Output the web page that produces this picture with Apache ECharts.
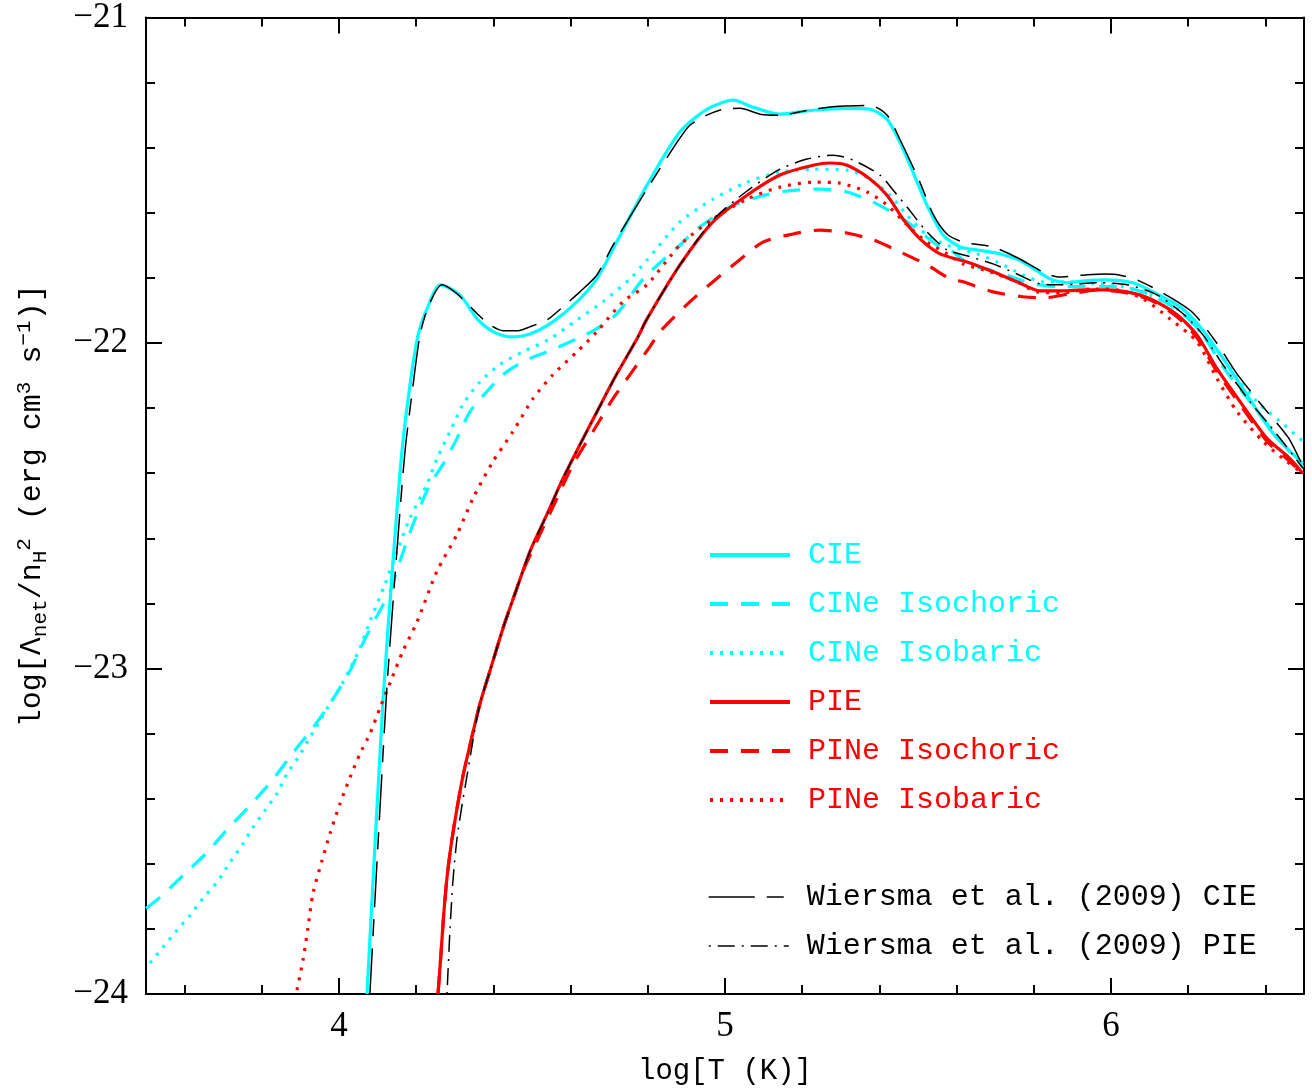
<!DOCTYPE html>
<html>
<head>
<meta charset="utf-8">
<script src="https://cdn.jsdelivr.net/npm/echarts@6/dist/echarts.min.js"></script>
<style>
html,body{margin:0;padding:0;background:#fff;}
#chart{width:1312px;height:1091px;}
</style>
</head>
<body>
<div id="chart"></div>
<script>
// ---------- tick values ----------
const xMajor = [4, 5, 6];
const xMinor = [3.6, 3.8, 4.2, 4.4, 4.6, 4.8, 5.2, 5.4, 5.6, 5.8, 6.2, 6.4];
const yMajor = [-24, -23, -22, -21];
const yMinor = [-23.8, -23.6, -23.4, -23.2, -22.8, -22.6, -22.4, -22.2, -21.8, -21.6, -21.4, -21.2];

// ---------- series names ----------
const names = ['CIE', 'CINe Isochoric', 'CINe Isobaric', 'PIE', 'PINe Isochoric', 'PINe Isobaric',
               'Wiersma et al. (2009) CIE', 'Wiersma et al. (2009) PIE'];

// ---------- data: log T and log Lambda ----------
const T_CIE = [4.0725,4.114,4.140,4.163,4.184,4.205,4.228,4.262,4.313,4.358,4.399,4.443,4.495,4.554,4.617,4.668,4.710,4.798,4.883,4.953,5.021,5.073,5.142,5.228,5.316,5.376,5.420,5.453,5.487,5.523,5.565,5.609,5.653,5.712,5.772,5.842,5.886,5.933,5.984,6.057,6.109,6.179,6.231,6.282,6.345,6.422,6.497];
const L_CIE = [-24.000,-23.099,-22.670,-22.333,-22.128,-21.975,-21.895,-21.821,-21.852,-21.926,-21.965,-21.981,-21.972,-21.935,-21.873,-21.803,-21.711,-21.515,-21.352,-21.282,-21.254,-21.276,-21.297,-21.285,-21.279,-21.282,-21.313,-21.383,-21.475,-21.576,-21.668,-21.705,-21.714,-21.726,-21.751,-21.803,-21.815,-21.809,-21.806,-21.815,-21.843,-21.889,-21.950,-22.033,-22.146,-22.281,-22.370];

const T_CINeIC = [3.5,3.5363,3.5959,3.6580,3.7124,3.7694,3.8264,3.8808,3.9326,3.9767,4.0026,4.0285,4.0622,4.0984,4.1321,4.1580,4.1917,4.2358,4.2694,4.3057,4.3394,4.3834,4.4249,4.4767,4.5389,4.6166,4.6684,4.7202,4.790,4.8834,4.9275,5.0130,5.0829,5.1606,5.2461,5.3161,5.3834,5.4456,5.4974,5.5492,5.5907,5.6347,5.6865,5.7565,5.7979,5.8601,5.9275,5.9974,6.0570,6.1192,6.1865,6.2383,6.2902,6.3601,6.4301,6.4974];
const L_CINeIC = [-23.737,-23.703,-23.636,-23.565,-23.492,-23.421,-23.344,-23.259,-23.182,-23.108,-23.059,-23.007,-22.922,-22.839,-22.762,-22.670,-22.557,-22.434,-22.373,-22.293,-22.211,-22.149,-22.097,-22.057,-22.027,-21.987,-21.956,-21.910,-21.800,-21.699,-21.650,-21.582,-21.552,-21.533,-21.527,-21.536,-21.567,-21.607,-21.650,-21.699,-21.720,-21.760,-21.775,-21.803,-21.818,-21.827,-21.827,-21.827,-21.834,-21.861,-21.910,-21.975,-22.073,-22.180,-22.287,-22.382];

const T_CINeIB = [3.5104,3.5440,3.5803,3.6140,3.6477,3.6839,3.7176,3.7513,3.7772,3.8083,3.8394,3.8653,3.8938,3.9197,3.9508,3.9767,4.0026,4.0285,4.0544,4.0803,4.1192,4.1503,4.1839,4.2280,4.2539,4.2876,4.3212,4.3653,4.4171,4.4767,4.5466,4.6166,4.6839,4.7539,4.7979,4.8834,4.9689,5.0570,5.1425,5.2280,5.3161,5.3756,5.4275,5.4715,5.5233,5.5751,5.6528,5.7047,5.7720,5.8238,5.8860,5.9715,6.0311,6.1010,6.1710,6.2383,6.3083,6.3782,6.4378,6.4974];
const L_CINeIB = [-23.905,-23.856,-23.804,-23.758,-23.706,-23.657,-23.596,-23.538,-23.488,-23.436,-23.384,-23.323,-23.274,-23.222,-23.161,-23.108,-23.059,-23.001,-22.937,-22.854,-22.741,-22.640,-22.538,-22.434,-22.355,-22.272,-22.189,-22.119,-22.066,-22.027,-21.987,-21.929,-21.873,-21.803,-21.745,-21.628,-21.558,-21.506,-21.475,-21.466,-21.469,-21.496,-21.546,-21.607,-21.668,-21.699,-21.726,-21.751,-21.791,-21.812,-21.812,-21.818,-21.827,-21.852,-21.895,-21.975,-22.073,-22.180,-22.241,-22.302];

const T_PIE = [4.2565,4.2640,4.2710,4.2800,4.2920,4.3057,4.3212,4.3394,4.3653,4.3912,4.4249,4.4611,4.4948,4.5389,4.5803,4.6244,4.6684,4.7202,4.7720,4.7979,4.8834,4.9689,5.0570,5.1425,5.2280,5.2720,5.3161,5.3756,5.4197,5.4611,5.5052,5.5570,5.6269,5.6943,5.7565,5.8161,5.8756,5.9326,5.9845,6.0415,6.1010,6.1710,6.2228,6.2746,6.3342,6.4041,6.4637,6.4974];
const L_PIE = [-24.000,-23.880,-23.760,-23.640,-23.530,-23.430,-23.330,-23.235,-23.108,-23.007,-22.876,-22.753,-22.640,-22.526,-22.416,-22.312,-22.211,-22.094,-21.987,-21.926,-21.760,-21.628,-21.546,-21.484,-21.454,-21.447,-21.454,-21.496,-21.546,-21.619,-21.680,-21.726,-21.751,-21.781,-21.812,-21.840,-21.840,-21.837,-21.837,-21.843,-21.864,-21.913,-21.975,-22.079,-22.180,-22.293,-22.355,-22.401];

const T_PINeIC = [4.2565,4.2640,4.2710,4.2800,4.2920,4.3057,4.3212,4.3394,4.3653,4.3912,4.4249,4.4430,4.4767,4.5207,4.5648,4.6062,4.6580,4.7098,4.7539,4.8057,4.8316,4.9093,4.9689,5.0311,5.0984,5.1762,5.2461,5.3161,5.3834,5.4534,5.5233,5.5829,5.6166,5.6943,5.7720,5.8290,5.8938,5.9715,6.0415,6.1010,6.1710,6.2228,6.2746,6.3342,6.4041,6.4637,6.4974];
const L_PINeIC = [-24.000,-23.880,-23.760,-23.640,-23.530,-23.430,-23.330,-23.235,-23.108,-23.007,-22.876,-22.814,-22.701,-22.588,-22.477,-22.373,-22.272,-22.171,-22.097,-22.011,-21.965,-21.873,-21.812,-21.751,-21.690,-21.665,-21.653,-21.662,-21.683,-21.720,-21.760,-21.803,-21.812,-21.843,-21.858,-21.861,-21.849,-21.837,-21.846,-21.867,-21.919,-21.984,-22.088,-22.189,-22.302,-22.364,-22.404];

const T_PINeIB = [3.891,3.9067,3.9197,3.9326,3.9560,3.9767,4.0026,4.0285,4.0544,4.0803,4.1062,4.1373,4.1658,4.2021,4.2539,4.3057,4.3472,4.3990,4.4508,4.5026,4.5544,4.6166,4.6684,4.7358,4.7979,4.8834,4.9689,5.0570,5.1425,5.2280,5.2979,5.3679,5.4197,5.4715,5.5233,5.5751,5.6166,5.6865,5.7565,5.8083,5.8756,5.9456,6.0155,6.0829,6.1528,6.2228,6.2746,6.3264,6.3938,6.4456,6.4974];
const L_PINeIB = [-23.988,-23.896,-23.795,-23.691,-23.590,-23.507,-23.415,-23.335,-23.262,-23.200,-23.121,-23.029,-22.946,-22.857,-22.701,-22.588,-22.477,-22.364,-22.272,-22.171,-22.097,-22.027,-21.965,-21.873,-21.821,-21.699,-21.619,-21.558,-21.521,-21.506,-21.509,-21.536,-21.576,-21.637,-21.690,-21.726,-21.757,-21.781,-21.812,-21.843,-21.846,-21.834,-21.837,-21.864,-21.926,-21.996,-22.109,-22.211,-22.302,-22.355,-22.401];

const T_W09CIE = [4.080,4.122,4.148,4.171,4.192,4.210,4.231,4.267,4.306,4.358,4.391,4.425,4.464,4.495,4.539,4.580,4.624,4.668,4.710,4.798,4.876,4.909,4.953,4.995,5.039,5.091,5.142,5.228,5.298,5.376,5.420,5.453,5.505,5.539,5.575,5.617,5.694,5.759,5.829,5.863,5.933,5.984,6.021,6.073,6.142,6.212,6.275,6.326,6.389,6.459,6.497];
const L_W09CIE = [-24.000,-23.099,-22.670,-22.333,-22.128,-21.975,-21.889,-21.821,-21.849,-21.910,-21.944,-21.962,-21.962,-21.950,-21.929,-21.889,-21.843,-21.791,-21.699,-21.527,-21.383,-21.331,-21.300,-21.282,-21.279,-21.297,-21.300,-21.282,-21.273,-21.270,-21.300,-21.374,-21.506,-21.604,-21.665,-21.690,-21.705,-21.739,-21.785,-21.797,-21.791,-21.788,-21.791,-21.809,-21.852,-21.907,-22.002,-22.094,-22.189,-22.290,-22.379];

const T_W09PIE = [4.2798,4.2876,4.2960,4.3060,4.3187,4.3316,4.3472,4.3653,4.3912,4.4249,4.4611,4.4948,4.5389,4.5803,4.6244,4.6684,4.7202,4.7720,4.7979,4.8834,4.9689,5.0570,5.1425,5.2124,5.2798,5.3316,5.4016,5.4352,5.4715,5.5233,5.5751,5.6269,5.6943,5.7565,5.8161,5.8756,5.9715,6.0415,6.1192,6.1865,6.2383,6.2902,6.3601,6.4301,6.4974];
const L_W09PIE = [-24.000,-23.800,-23.640,-23.520,-23.420,-23.330,-23.220,-23.108,-23.007,-22.876,-22.753,-22.640,-22.526,-22.416,-22.312,-22.211,-22.094,-21.987,-21.926,-21.760,-21.622,-21.533,-21.466,-21.435,-21.423,-21.438,-21.484,-21.530,-21.582,-21.659,-21.714,-21.732,-21.757,-21.788,-21.818,-21.821,-21.815,-21.821,-21.852,-21.910,-21.975,-22.067,-22.180,-22.281,-22.385];

// ---------- build ----------
const zip = (a, b) => a.map((v, i) => [v, b[i]]);
const CYAN = '#00ffff', RED = '#ff0000', BLACK = '#000000';
const DASH = [18, 13], DOT = [3, 7], LONGDASH = [46, 12, 17, 12], DASHDOT = [2, 7, 17, 7];

function line(name, T, L, color, width, type, z) {
  return {
    name: name, type: 'line', data: zip(T, L), symbol: 'none', showSymbol: false,
    smooth: 0.25, clip: true, z: z, silent: true,
    lineStyle: { color: color, width: width, type: type, cap: 'butt' },
    itemStyle: { color: color }
  };
}

const series = [
  line(names[0], T_CIE, L_CIE, CYAN, 3.2, 'solid', 2),
  line(names[1], T_CINeIC, L_CINeIC, CYAN, 3.2, DASH, 2),
  line(names[2], T_CINeIB, L_CINeIB, CYAN, 3.2, DOT, 2),
  line(names[3], T_PIE, L_PIE, RED, 3.2, 'solid', 3),
  line(names[4], T_PINeIC, L_PINeIC, RED, 3.2, DASH, 3),
  line(names[5], T_PINeIB, L_PINeIB, RED, 3.2, DOT, 3),
  line(names[6], T_W09CIE, L_W09CIE, BLACK, 1.5, LONGDASH, 4),
  line(names[7], T_W09PIE, L_W09PIE, BLACK, 1.5, DASHDOT, 4)
];

const fmt = v => (v < 0 ? '\u2212' + Math.abs(v) : String(v));
const LBL = { fontFamily: 'Liberation Serif', fontSize: 35, color: '#000' };
const AXL = { show: true, lineStyle: { color: '#000', width: 2 } };

function xAx(pos, vals, len, showLabel, showLine) {
  return {
    type: 'value', position: pos, min: 3.5, max: 6.5, offset: 0,
    axisLine: showLine ? AXL : { show: false },
    splitLine: { show: false },
    axisTick: { show: true, inside: true, length: len, customValues: vals, lineStyle: { color: '#000', width: 2 } },
    axisLabel: showLabel ? Object.assign({ show: true, customValues: xMajor, margin: 15, formatter: fmt }, LBL) : { show: false }
  };
}
function yAx(pos, vals, len, showLabel, showLine) {
  return {
    type: 'value', position: pos, min: -24, max: -21, offset: 0,
    axisLine: showLine ? AXL : { show: false },
    splitLine: { show: false },
    axisTick: { show: true, inside: true, length: len, customValues: vals, lineStyle: { color: '#000', width: 2 } },
    axisLabel: showLabel ? Object.assign({ show: true, customValues: yMajor, margin: 18, formatter: fmt }, LBL) : { show: false }
  };
}

const xAxes = [
  xAx('bottom', xMajor, 16, true, true),
  xAx('bottom', xMinor, 9, false, false),
  xAx('top', xMajor, 16, false, true),
  xAx('top', xMinor, 9, false, false)
];
xAxes[0].name = 'log[T (K)]';
xAxes[0].nameLocation = 'middle';
xAxes[0].nameGap = 63;
xAxes[0].nameTextStyle = { fontFamily: 'Liberation Mono', fontSize: 29, color: '#000' };

const yAxes = [
  yAx('left', yMajor, 16, true, true),
  yAx('left', yMinor, 9, false, false),
  yAx('right', yMajor, 16, false, true),
  yAx('right', yMinor, 9, false, false)
];
const T = { fontFamily: 'Liberation Mono', fontSize: 30, color: '#000' };
const S = { fontFamily: 'Liberation Mono', fontSize: 21, color: '#000', padding: [16, 0, 0, 0] };
const P = { fontFamily: 'Liberation Mono', fontSize: 21, color: '#000', padding: [0, 0, 16, 0] };
yAxes[0].name = '{t|log[\u039b}{s|net}{t|/n}{s|H}{p|2}{t| (erg cm}{p|3}{t| s}{p|\u22121}{t|)]}';
yAxes[0].nameLocation = 'middle';
yAxes[0].nameRotate = 90;
yAxes[0].nameGap = 95;
yAxes[0].nameTextStyle = { rich: { t: T, s: S, p: P } };

const legendText = { fontFamily: 'Liberation Mono', fontSize: 30, lineHeight: 30, padding: [0, 0, 0, 13] };
const colors = [CYAN, CYAN, CYAN, RED, RED, RED, BLACK, BLACK];
const widths = [4, 4, 4, 4, 4, 4, 1.5, 1.5];
const legData = names.map((n, i) => ({
  name: n, textStyle: { color: colors[i] },
  lineStyle: { width: widths[i] }, itemStyle: { opacity: 0 }
}));

const option = {
  animation: false,
  backgroundColor: '#fff',
  grid: { left: 146, right: 8, top: 15, bottom: 97, containLabel: false },
  xAxis: xAxes,
  yAxis: yAxes,
  legend: [
    { orient: 'vertical', left: 703, top: 535, itemWidth: 80, itemHeight: 14, itemGap: 19,
      selectedMode: false, data: legData.slice(0, 6), textStyle: legendText, itemStyle: { opacity: 0 } },
    { orient: 'vertical', left: 703, top: 877, itemWidth: 80, itemHeight: 14, itemGap: 19,
      selectedMode: false, data: legData.slice(6), textStyle: legendText, itemStyle: { opacity: 0 } }
  ],
  series: series
};

const chart = echarts.init(document.getElementById('chart'), null, { renderer: 'canvas' });
chart.setOption(option);
</script>
</body>
</html>
